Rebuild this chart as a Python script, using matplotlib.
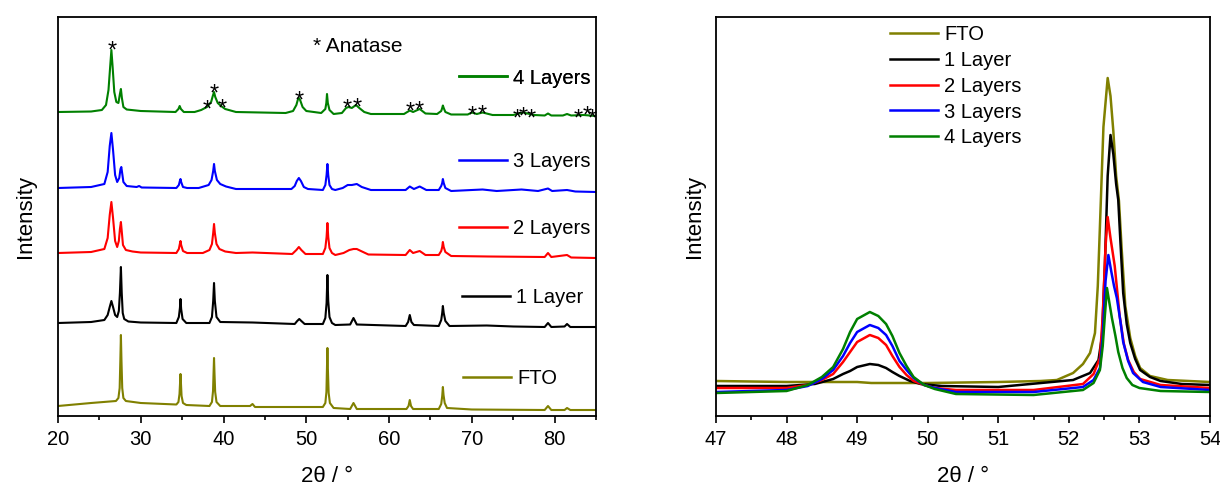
import numpy as np
import matplotlib.pyplot as plt
from matplotlib.lines import Line2D

plt.rcParams['font.family'] = ['Liberation Sans', 'DejaVu Sans']

labels = ['FTO', '1 Layer', '2 Layers', '3 Layers', '4 Layers']
colors = ['#808000', 'black', 'red', 'blue', 'green']

# full scan 20-85 deg: (2theta, intensity a.u. relative to the trace's own baseline)
fto = [(20, 0), (24, 3), (27.0, 5), (27.3, 8), (27.45, 18), (27.53, 45), (27.6, 71),
       (27.67, 45), (27.76, 18), (27.9, 8), (28.2, 5), (30, 3), (34.3, 1.5), (34.55, 4),
       (34.68, 12), (34.74, 22), (34.8, 32), (34.86, 22), (34.93, 10), (35.1, 3), (35.5, 1),
       (38.3, 0), (38.6, 4), (38.73, 15), (38.79, 32), (38.85, 48), (38.91, 32), (38.99, 14),
       (39.15, 4), (39.6, 0), (43.2, 0), (43.5, 2), (43.8, -1), (52.0, -1), (52.3, 3),
       (52.43, 14), (52.49, 36), (52.55, 58), (52.61, 36), (52.7, 13), (52.85, 3), (53.3, -2),
       (55.3, -3), (55.7, 3), (56.1, -3), (62.1, -3), (62.35, 0), (62.5, 6), (62.65, 0),
       (62.9, -3), (66.0, -3), (66.3, 2), (66.42, 10), (66.5, 19), (66.58, 11), (66.72, 3),
       (67.0, -2), (70, -3.5), (78.8, -4), (79.2, 0), (79.6, -4), (81.2, -4), (81.5, -2),
       (81.9, -4), (85, -4)]

one_layer = [(20, 0), (24, 1), (25.6, 3), (26.0, 8), (26.25, 16), (26.45, 22), (26.65, 16),
             (26.9, 8), (27.15, 6), (27.35, 12), (27.48, 30), (27.6, 56), (27.7, 30),
             (27.82, 10), (28.0, 4), (28.5, 1.5), (30, 0.5), (34.3, 0), (34.6, 6), (34.73, 15),
             (34.8, 24), (34.88, 14), (35.05, 4), (35.5, 0), (38.3, 0), (38.6, 6), (38.75, 22),
             (38.85, 40), (38.95, 22), (39.15, 6), (39.6, 1), (43.5, 0.5), (48.6, -1),
             (48.9, 2), (49.15, 4), (49.4, 2), (49.8, -1), (52.0, -1), (52.3, 5), (52.45, 20),
             (52.55, 48), (52.65, 22), (52.8, 6), (53.1, 0), (53.5, -2), (55.3, -1.5),
             (55.7, 5), (56.1, -1.5), (62.0, -3), (62.3, 1), (62.5, 8), (62.7, 1), (63.0, -2),
             (66.0, -3), (66.3, 3), (66.42, 10), (66.5, 17), (66.6, 10), (66.8, 2), (67.3, -3),
             (71.8, -2.5), (75, -3.5), (78.8, -4), (79.2, 0), (79.6, -4), (81.2, -3.5),
             (81.5, -1), (81.9, -4), (85, -4)]

two_layers = [(20, 0), (24, 1), (25.6, 4), (26.0, 15), (26.25, 38), (26.45, 51), (26.65, 35),
              (26.9, 12), (27.15, 6), (27.35, 12), (27.48, 24), (27.6, 31), (27.7, 22),
              (27.85, 8), (28.2, 3), (29, 1.5), (30, 0.5), (34.3, 0), (34.6, 4), (34.72, 9),
              (34.8, 12), (34.88, 8), (35.1, 2), (35.6, 0), (37.5, 0), (38.3, 3), (38.6, 9),
              (38.75, 20), (38.85, 29), (38.95, 20), (39.15, 9), (39.5, 4), (40.2, 1.5),
              (41.5, 0), (43.5, 0.5), (48.3, -1), (48.8, 3), (49.1, 6), (49.4, 3), (49.9, -1),
              (52.0, -1), (52.3, 5), (52.45, 16), (52.55, 30), (52.65, 16), (52.8, 5),
              (53.1, 0), (53.5, -2), (54.5, 0), (55.2, 3), (55.7, 4), (56.1, 4), (56.6, 2),
              (57.5, -1.5), (62.0, -2), (62.5, 3), (62.9, 0), (63.7, 2), (64.4, -2), (66.0, -2),
              (66.3, 2), (66.42, 6), (66.5, 11), (66.6, 6), (66.8, 1), (67.5, -3), (72, -3.5),
              (78.8, -4), (79.2, 0), (79.6, -4), (81.5, -2), (82.0, -4.5), (85, -5)]

three_layers = [(20, 0), (24, 1), (25.6, 4), (26.0, 16), (26.25, 42), (26.45, 55), (26.65, 38),
                (26.9, 13), (27.15, 6), (27.4, 10), (27.55, 19), (27.65, 21), (27.75, 15),
                (27.9, 6), (28.3, 2), (29.5, 1), (29.8, 2), (30.1, 0.5), (34.3, 0), (34.6, 3),
                (34.72, 7), (34.8, 9), (34.88, 6), (35.1, 1), (35.6, 0), (37.0, 0), (38.2, 3),
                (38.55, 8), (38.75, 17), (38.85, 24), (38.95, 17), (39.2, 8), (39.6, 4),
                (40.3, 1.5), (41.5, -1), (48.2, -1), (48.6, 2), (48.85, 7), (49.1, 10),
                (49.35, 7), (49.7, 1), (50.2, -1), (52.0, -2), (52.3, 3), (52.45, 13),
                (52.55, 24), (52.65, 13), (52.8, 3), (53.1, -1), (53.5, -2), (54.4, 0),
                (55.0, 3), (55.5, 3), (56.1, 4), (56.7, 1), (57.8, -2), (62.0, -2), (62.5, 1.5),
                (63.0, -1), (63.7, 1.5), (64.5, -2), (66.0, -2), (66.3, 2), (66.42, 5),
                (66.5, 9), (66.6, 5), (66.8, 0), (67.5, -3), (70, -2), (71.3, -1.5), (73, -3),
                (76, -1.5), (78, -3), (79.2, -0.5), (79.7, -3), (81.5, -2), (82.5, -3.5),
                (85, -4)]

four_layers = [(20, 0), (24, 0.5), (25.3, 2), (25.8, 7), (26.1, 22), (26.3, 45), (26.45, 62),
               (26.6, 45), (26.8, 20), (27.05, 10), (27.3, 9), (27.48, 18), (27.6, 23),
               (27.72, 14), (27.9, 5), (28.3, 2.5), (30, 1), (34.2, 0), (34.55, 3), (34.7, 6),
               (34.85, 3), (35.2, 0), (36.5, 0), (37.3, 2), (38.0, 5), (38.5, 10), (38.7, 16),
               (38.85, 20), (39.0, 15), (39.3, 9), (39.7, 6), (40.2, 3), (41.5, 0), (47.5, -1),
               (48.4, 1), (48.8, 7), (49.0, 13), (49.1, 14), (49.25, 12), (49.55, 5), (50.0, 1),
               (51.8, -1), (52.3, 3), (52.42, 9), (52.5, 18), (52.6, 9), (52.8, 2), (53.3, -2),
               (54.3, -1), (54.8, 4), (55.1, 5), (55.5, 4), (56.0, 7), (56.4, 4), (57.0, 0),
               (57.8, -2), (61.8, -2), (62.5, 1.5), (62.9, 0), (63.7, 3), (64.4, -1.5),
               (65.8, -2), (66.3, 1), (66.42, 4), (66.5, 6.5), (66.6, 4), (66.8, 0),
               (67.5, -2.5), (69.5, -2.5), (70.0, -0.5), (70.6, -2), (71.3, -0.5), (72.5, -3),
               (75.0, -3), (76.2, -0.5), (77.5, -3), (78.8, -3.5), (79.2, -1.5), (79.6, -3.5),
               (81.0, -3.5), (81.5, -2), (82.0, -3.5), (83.5, -3), (85, -4)]

stack_offsets = [10, 93, 163, 228, 304]

# anatase reflections marked on the 4 Layers trace
star_x = [26.5, 38.0, 38.85, 39.8, 49.1, 54.9, 56.1, 62.5, 63.7, 70.0, 71.3,
          75.5, 76.2, 77.2, 82.8, 83.9, 84.6]
star_y = [372, 313, 329, 314, 322, 314, 315, 311, 312, 307, 308,
          304, 306, 304, 304, 307, 304]

# detail scan 47-54 deg
z_fto = [(47, 35), (48, 34), (49, 34), (49.2, 33), (50, 33), (51, 34), (51.6, 35), (51.83, 36),
         (52.06, 43), (52.2, 52), (52.3, 63), (52.37, 83), (52.41, 130), (52.44, 189),
         (52.49, 289), (52.55, 338), (52.59, 320), (52.63, 285), (52.67, 240), (52.71, 215),
         (52.75, 165), (52.8, 110), (52.87, 78), (52.94, 60), (53.01, 48), (53.15, 40),
         (53.4, 36), (54, 34)]
z_one = [(47, 30), (48, 30), (48.4, 32), (48.66, 37), (48.8, 42), (48.9, 45), (49.0, 49),
         (49.18, 52), (49.3, 51), (49.41, 48), (49.5, 44), (49.6, 40), (49.75, 35), (49.9, 32),
         (50.2, 30), (51, 29), (52.06, 36), (52.3, 43), (52.42, 56), (52.47, 80), (52.51, 150),
         (52.55, 240), (52.59, 281), (52.63, 262), (52.67, 232), (52.70, 216), (52.73, 175),
         (52.77, 123), (52.82, 92), (52.87, 73), (52.94, 57), (53.01, 46), (53.15, 39),
         (53.3, 35), (53.6, 32), (54, 31)]
z_two = [(47, 28), (48, 28), (48.3, 31), (48.5, 36), (48.66, 42), (48.8, 54), (48.9, 64),
         (49.0, 74), (49.18, 81), (49.3, 78), (49.41, 71), (49.5, 60), (49.6, 49), (49.7, 41),
         (49.8, 35), (49.95, 31), (50.1, 28), (50.4, 26), (51.5, 26), (52.2, 32), (52.35, 42),
         (52.44, 58), (52.48, 100), (52.52, 170), (52.55, 199), (52.59, 178), (52.65, 150),
         (52.72, 100), (52.78, 72), (52.84, 56), (52.92, 44), (53.01, 37), (53.3, 31),
         (54, 28)]
z_three = [(47, 24), (48, 26), (48.3, 30), (48.5, 37), (48.66, 46), (48.8, 60), (48.9, 73),
           (49.0, 84), (49.18, 91), (49.3, 88), (49.41, 81), (49.5, 70), (49.6, 55), (49.7, 46),
           (49.8, 38), (49.95, 31), (50.1, 28), (50.4, 24), (51.5, 24), (52.2, 29), (52.35, 36),
           (52.44, 48), (52.48, 80), (52.52, 135), (52.56, 161), (52.6, 145), (52.64, 130),
           (52.68, 118), (52.73, 95), (52.77, 74), (52.84, 55), (52.91, 43), (53.05, 34),
           (53.3, 29), (54, 26)]
z_four = [(47, 23), (48, 25), (48.3, 31), (48.5, 39), (48.66, 49), (48.8, 67), (48.9, 84),
          (49.0, 97), (49.18, 104), (49.3, 100), (49.41, 92), (49.5, 80), (49.6, 63), (49.7, 50),
          (49.8, 39), (49.95, 31), (50.1, 27), (50.4, 22), (51.5, 21), (52.2, 26), (52.35, 33),
          (52.44, 46), (52.48, 70), (52.51, 100), (52.54, 128), (52.57, 115), (52.61, 98),
          (52.66, 80), (52.70, 64), (52.76, 48), (52.82, 38), (52.9, 31), (53.0, 28),
          (53.3, 25), (54, 24)]

full_scans = [fto, one_layer, two_layers, three_layers, four_layers]
zoom_scans = [z_fto, z_one, z_two, z_three, z_four]

# where each trace's side label sits (axes fraction)
label_anchor_x = [0.753, 0.751, 0.745, 0.745, 0.745]
label_anchor_y = [0.095, 0.298, 0.469, 0.637, 0.847]

FS = 14.5


def style_axes(ax, major, minor):
    for s in ax.spines.values():
        s.set_linewidth(1.3)
    ax.set_yticks([])
    ax.set_xticks(major)
    ax.set_xticks(minor, minor=True)
    ax.tick_params(axis='x', which='major', direction='out', length=5, width=1.2,
                   labelsize=14.5, pad=5)
    ax.tick_params(axis='x', which='minor', direction='out', length=3, width=1.2)
    ax.set_xlabel('2θ / °', fontsize=16, labelpad=12)


fig = plt.figure(figsize=(12.2, 4.87), dpi=100)
ax1 = fig.add_axes([58 / 1220, 71 / 487, 538 / 1220, 399 / 487])
ax2 = fig.add_axes([716 / 1220, 71 / 487, 494 / 1220, 399 / 487])

# left: stacked full patterns
for scan, off, c, lab, lx, ly in zip(full_scans, stack_offsets, colors, labels,
                                     label_anchor_x, label_anchor_y):
    x, y = np.array(scan).T
    ax1.plot(x, y + off, color=c, lw=1.5)
    leg = ax1.legend([Line2D([], [], color=c, lw=1.8)], [lab], loc='center left',
                     bbox_to_anchor=(lx, ly), frameon=False, fontsize=FS,
                     handlelength=2.4, handletextpad=0.3, borderpad=0, borderaxespad=0)
    ax1.add_artist(leg)

for sx, sy in zip(star_x, star_y):
    ax1.annotate('*', (sx, sy), xytext=(0, -9.5), textcoords='offset points',
                 ha='center', va='baseline', fontsize=17)

ax1.text(0.474, 0.927, '* Anatase', transform=ax1.transAxes, ha='left', va='center',
         fontsize=15)
ax1.set_xlim(20, 85)
ax1.set_ylim(0, 399)
style_axes(ax1, np.arange(20, 81, 10), np.arange(25, 86, 10))
ax1.set_ylabel('Intensity', fontsize=16, labelpad=16)

# right: 47-54 deg detail
for scan, c, lab in zip(zoom_scans, colors, labels):
    x, y = np.array(scan).T
    ax2.plot(x, y, color=c, lw=1.8, label=lab)
ax2.legend(loc='upper left', bbox_to_anchor=(0.352, 0.98), frameon=False, fontsize=FS,
           handlelength=2.4, handletextpad=0.3, borderpad=0, borderaxespad=0,
           labelspacing=0.34)
ax2.set_xlim(47, 54)
ax2.set_ylim(0, 399)
style_axes(ax2, np.arange(47, 55, 1), np.arange(47.5, 54, 1))
ax2.set_ylabel('Intensity', fontsize=16, labelpad=8)

fig.savefig('out.png', dpi=100)
